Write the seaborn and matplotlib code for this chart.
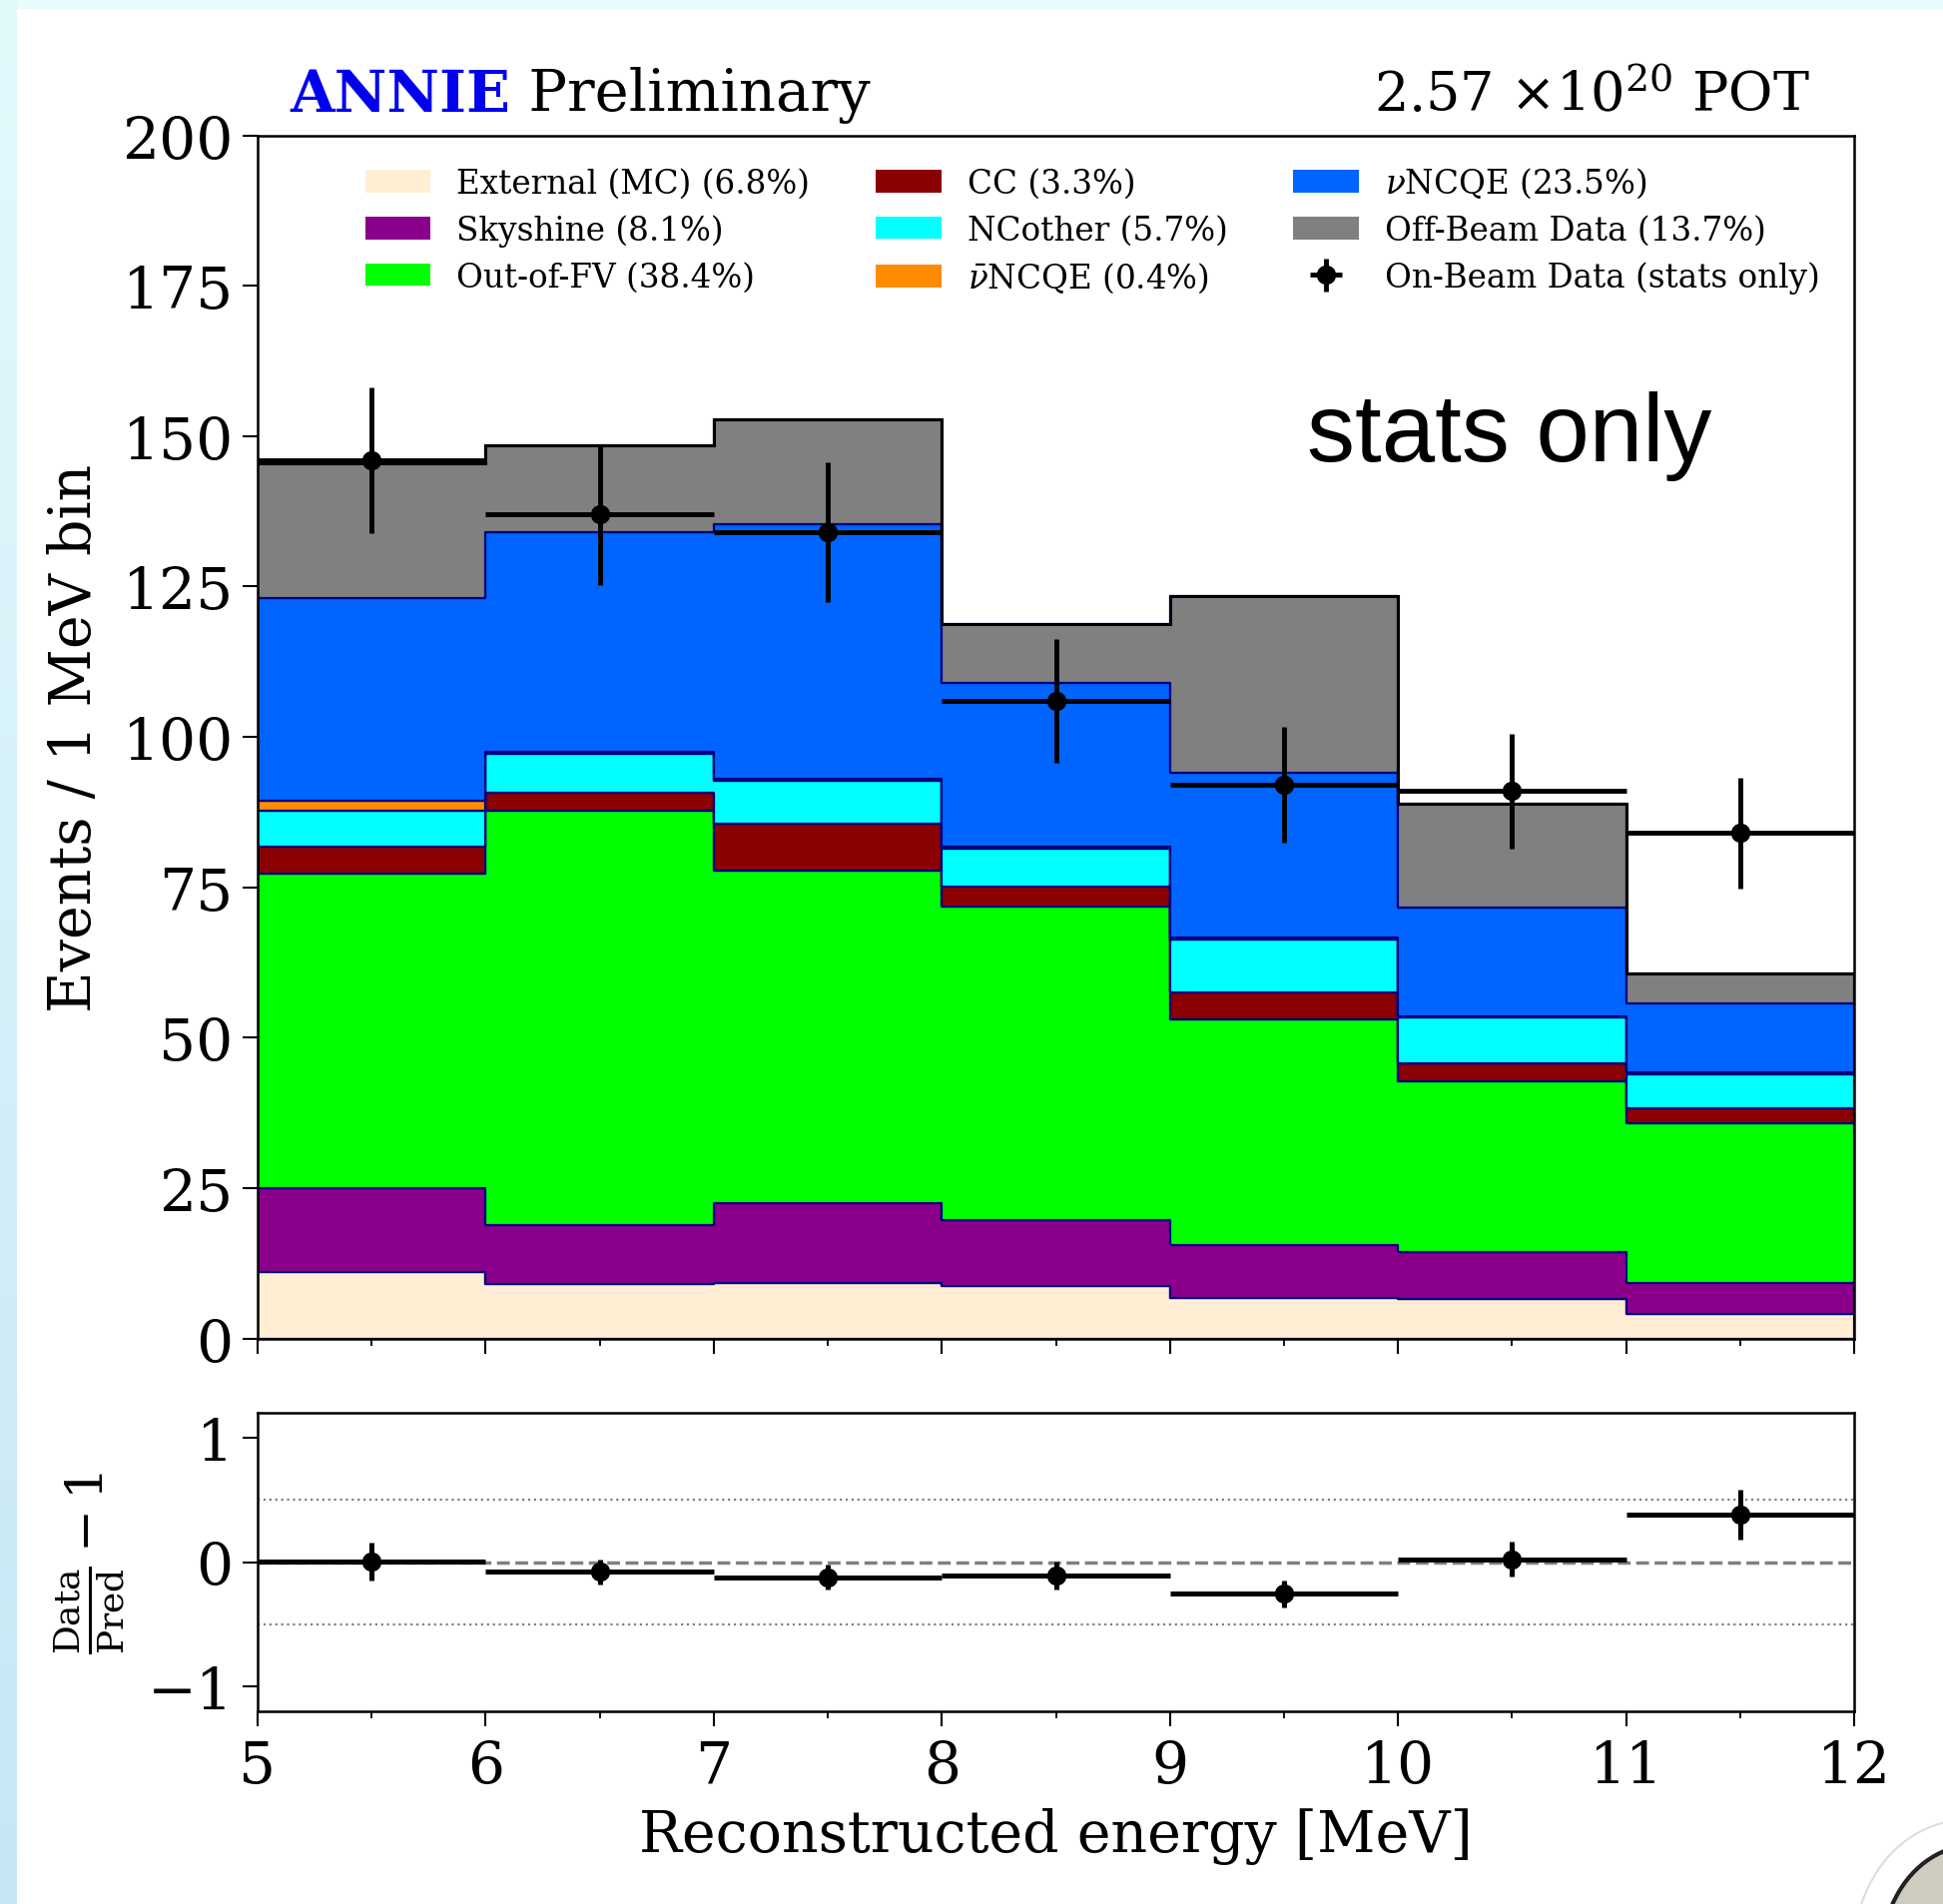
import numpy as np
import pandas as pd
import matplotlib
matplotlib.use("Agg")
import matplotlib.pyplot as plt
import seaborn as sns
from matplotlib.patches import Patch, Ellipse

# ---------------- binning and axis ticks ----------------
bin_edges = [5, 6, 7, 8, 9, 10, 11, 12]
x_ticks = [5, 6, 7, 8, 9, 10, 11, 12]
y_ticks = [0, 25, 50, 75, 100, 125, 150, 175, 200]
ratio_ticks = [-1, 0, 1]

# ---------------- predicted events per 1 MeV bin ----------------
external = [11.0, 9.0, 9.3, 8.7, 6.8, 6.5, 4.1]
skyshine = [14.0, 9.8, 13.2, 11.0, 8.8, 7.9, 5.1]
out_of_fv = [52.2, 68.9, 55.3, 52.1, 37.4, 28.3, 26.6]
cc = [4.5, 3.1, 7.7, 3.3, 4.5, 3.0, 2.4]
nc_other = [6.1, 6.4, 7.2, 6.3, 8.9, 7.6, 5.8]
nubar_ncqe = [1.6, 0.3, 0.3, 0.3, 0.3, 0.2, 0.2]
nu_ncqe = [33.7, 36.5, 42.4, 27.3, 27.3, 18.2, 11.5]
off_beam = [22.4, 14.5, 17.4, 9.8, 29.5, 17.2, 5.0]

# ---------------- on-beam data ----------------
on_beam = [146, 137, 134, 106, 92, 91, 84]
on_beam_err = [12.1, 11.7, 11.6, 10.3, 9.6, 9.5, 9.2]
ratio_err = [0.15, 0.10, 0.10, 0.11, 0.11, 0.14, 0.20]

# ---------------- legend text and colours ----------------
comp_names = ["External (MC)", "Skyshine", "Out-of-FV", "CC", "NCother",
              "nubarNCQE", "nuNCQE", "Off-Beam Data"]
comp_labels = ["External (MC) (6.8%)", "Skyshine (8.1%)", "Out-of-FV (38.4%)",
               "CC (3.3%)", "NCother (5.7%)", r"$\bar{\nu}$NCQE (0.4%)",
               r"$\nu$NCQE (23.5%)", "Off-Beam Data (13.7%)"]
data_label = "On-Beam Data (stats only)"
comp_colors = ["#ffedd4", "#8b008b", "#00ff00", "#8b0000", "#00ffff",
               "#ff8c00", "#0064ff", "#808080"]

sns.set_theme(style="ticks")
plt.rcParams["font.family"] = ["DejaVu Serif"]
plt.rcParams["mathtext.fontset"] = "dejavuserif"
plt.rcParams.update({"text.color": "black", "axes.labelcolor": "black",
                     "xtick.color": "black", "ytick.color": "black",
                     "axes.edgecolor": "black"})

W, H = 1946, 1908
DPI = 100
fig = plt.figure(figsize=(W / DPI, H / DPI), dpi=DPI, facecolor="white")

# slide background behind the figure
bg_ax = fig.add_axes([0, 0, 1, 1], zorder=-10)
bg = np.ones((H, W, 3))
bg[:10, :, :] = [0.91, 0.99, 0.99]
grad = np.linspace(0, 1, H)[:, None, None]
c_top = np.array([0.89, 0.98, 0.99])
c_bot = np.array([0.78, 0.90, 0.96])
bg[:, :17, :] = c_top + (c_bot - c_top) * grad
bg_ax.imshow(bg, aspect="auto", extent=[0, W, H, 0], interpolation="nearest")
bg_ax.add_patch(Ellipse((2010, 2010), 290, 390, angle=-25, fc="white", ec="#dddddd", lw=1.5))
bg_ax.add_patch(Ellipse((2018, 2015), 250, 350, angle=-25, fc="#cfccc2", ec="#222222", lw=3))
bg_ax.add_patch(Ellipse((2038, 2025), 180, 290, angle=-25, fc="#c9952c", ec="#5a3d10", lw=2))
bg_ax.set_xlim(0, W)
bg_ax.set_ylim(H, 0)
bg_ax.axis("off")

ax = fig.add_axes([258 / W, 1 - 1341.6 / H, 1599 / W, 1205 / H])
rax = fig.add_axes([258 / W, 1 - 1715 / H, 1599 / W, 299 / H])

edges = np.array(bin_edges, dtype=float)
centers = 0.5 * (edges[:-1] + edges[1:])
half_width = 0.5 * np.diff(edges)

layers = [external, skyshine, out_of_fv, cc, nc_other, nubar_ncqe, nu_ncqe, off_beam]
rows = []
for name, vals in zip(comp_names, layers):
    for c, v in zip(centers, vals):
        rows.append((c, v, name))
df = pd.DataFrame(rows, columns=["energy", "events", "component"])

# first hue level ends on top of the stack
stack_order = comp_names[::-1]
palette = dict(zip(comp_names, comp_colors))
sns.histplot(data=df, x="energy", weights="events", hue="component",
             hue_order=stack_order, multiple="stack", bins=bin_edges,
             element="step", palette=palette, alpha=1, edgecolor="#000080",
             linewidth=1.6, legend=False, ax=ax)

total = np.sum(np.array(layers), axis=0)
ax.stairs(total, edges, color="black", linewidth=2.2, baseline=None, zorder=3)

ax.errorbar(centers, on_beam, xerr=half_width, yerr=on_beam_err, fmt="o",
            color="black", ms=13, elinewidth=3.5, capsize=0, zorder=5)

ax.set_xlim(5, 12)
ax.set_ylim(0, 200)
ax.set_yticks(y_ticks)
ax.set_xticks(x_ticks)
ax.set_xticks(np.arange(5.5, 12, 1.0), minor=True)
ax.tick_params(axis="x", which="both", labelbottom=False)
ax.set_xlabel("")
ax.set_ylabel("Events / 1 MeV bin", fontsize=41)
ax.yaxis.set_label_coords(-0.097, 0.5)

# legend
handles = [Patch(facecolor=c, edgecolor="none") for c in comp_colors]
data_handle = ax.errorbar([], [], xerr=[], yerr=[], fmt="o", color="black",
                          ms=13, elinewidth=3.5, capsize=0)
handles.append(data_handle)
labels = comp_labels + [data_label]
ax.legend(handles, labels, ncol=3, loc="upper left", bbox_to_anchor=(0.0675, 0.975),
          frameon=False, fontsize=23.5, borderpad=0, borderaxespad=0,
          handlelength=2.0, handleheight=0.7, handletextpad=0.8,
          columnspacing=2.02, labelspacing=0.44)

# header texts
t1 = ax.text(0.020, 1.020, "ANNIE", transform=ax.transAxes, fontsize=41.5,
             fontweight="bold", color="#0000ee", va="baseline", ha="left")
ax.annotate(" Preliminary", xy=(1, 0), xycoords=t1, fontsize=41.5,
            va="bottom", ha="left", color="black")
ax.text(0.972, 1.020, r"2.57 $\times10^{20}$ POT", transform=ax.transAxes,
        fontsize=39, va="baseline", ha="right", color="black")
ax.text(1309 / W, 1 - 462 / H, "stats only", transform=fig.transFigure,
        fontsize=69, family="Liberation Sans", va="baseline", ha="left",
        color="black")

# ratio panel
pred = total
ratio = np.array(on_beam) / pred - 1
rax.axhline(0, color="gray", ls="--", lw=2.5, zorder=1)
rax.axhline(0.5, color="gray", ls=":", lw=1.6, zorder=1)
rax.axhline(-0.5, color="gray", ls=":", lw=1.6, zorder=1)
rax.errorbar(centers, ratio, xerr=half_width, yerr=ratio_err, fmt="o",
             color="black", ms=13, elinewidth=3.6, capsize=0, zorder=5)
rax.set_xlim(5, 12)
rax.set_ylim(-1.2, 1.2)
rax.set_yticks(ratio_ticks)
rax.set_xticks(x_ticks)
rax.set_xticks(np.arange(5.5, 12, 1.0), minor=True)
rax.set_xlabel("Reconstructed energy [MeV]", fontsize=41)
rax.set_ylabel(r"$\frac{\mathrm{Data}}{\mathrm{Pred}} - 1$", fontsize=37)
rax.yaxis.set_label_coords(-0.082, 0.5)
rax.xaxis.set_label_coords(0.5, -0.32)

for a in (ax, rax):
    for s in a.spines.values():
        s.set_visible(True)
        s.set_linewidth(1.8)
        s.set_color("black")
    a.tick_params(axis="both", which="major", length=10.5, width=1.5,
                  labelsize=42, direction="out", pad=7, color="black",
                  labelcolor="black")
    a.tick_params(axis="x", which="minor", length=5, width=1.3,
                  direction="out", color="black")
    a.tick_params(axis="x", which="major", pad=9)
    a.set_facecolor("white")

fig.savefig("out.png", dpi=DPI, facecolor="white")
